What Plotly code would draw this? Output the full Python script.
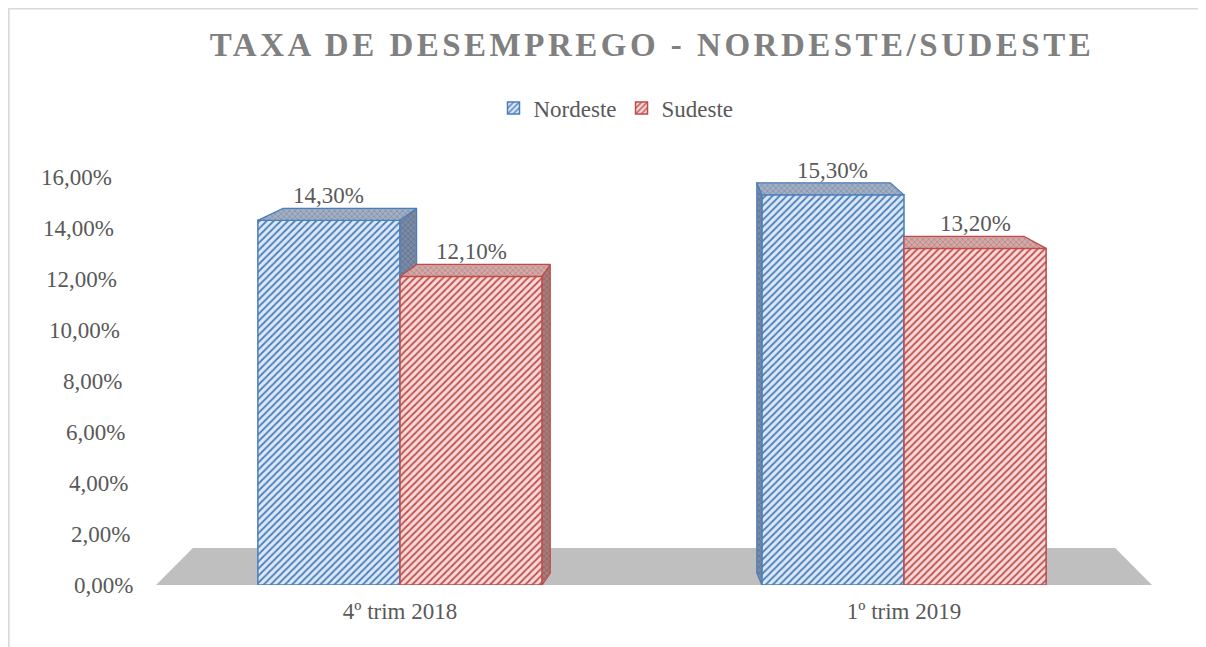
import plotly.graph_objects as go

# ---- data ----
categories = ["4º trim 2018", "1º trim 2019"]
series_names = ["Nordeste", "Sudeste"]
nordeste = [14.3, 15.3]
sudeste = [12.1, 13.2]
y_ticks = [0, 2, 4, 6, 8, 10, 12, 14, 16]
y_tick_text = [f"{v:.2f}".replace(".", ",") + "%" for v in y_ticks]

# ---- style ----
W, H = 1206, 647
ML, MR, MT, MB = 140, 58, 169, 70
PW, PH = W - ML - MR, H - MT - MB
XR = (-0.5, 1.5)
YR = (0, 16)
px_x = PW / (XR[1] - XR[0])
px_y = PH / (YR[1] - YR[0])
BARGAP = 0.436
BW = (1 - BARGAP) / 2
K, XV = 0.06, 0.55           # perspective for 3-D faces
DEPTH = 12 / px_y            # depth of bar tops (in y units)
TICK_SLANT = 1.356           # px per y unit (perspective of the value axis labels)

TXT = "#595959"
FONT = "Liberation Serif, Times New Roman, serif"
FS = 23
front = {
    "Nordeste": dict(bg="#dce8f7", fg="#4a7ebb", edge="#4a7ebb"),
    "Sudeste": dict(bg="#f7dad9", fg="#c0504d", edge="#be4b48"),
}
topface = {
    "Nordeste": dict(bg="#a3b0c4", fg="#3d5278"),
    "Sudeste": dict(bg="#d3aaa9", fg="#7d3e3c"),
}
sideface = {
    "Nordeste": dict(bg="#7b8ba6", fg="#2e3f5e"),
    "Sudeste": dict(bg="#a77c7b", fg="#5e2f2e"),
}

fig = go.Figure()
xs = list(range(len(categories)))
values = {"Nordeste": nordeste, "Sudeste": sudeste}

def xp(p): return (p - ML) / PW
def yp(p): return (H - MB - p) / PH

# front faces (real bars)
for name in series_names:
    c = front[name]
    fig.add_trace(go.Bar(
        name=name, x=xs, y=values[name],
        marker=dict(color=c["bg"], line=dict(color=c["edge"], width=1.5),
                    pattern=dict(shape="/", fgcolor=c["fg"], bgcolor=c["bg"],
                                 size=5, solidity=0.35, fillmode="replace")),
        hoverinfo="skip",
    ))

# 3-D top / side faces derived from the same values
def face(xpts, ypts, name, style):
    c = style[name]
    fig.add_trace(go.Scatter(
        x=xpts + [xpts[0]], y=ypts + [ypts[0]], mode="lines", fill="toself",
        fillcolor=c["bg"],
        fillpattern=dict(shape="x", fgcolor=c["fg"], bgcolor=c["bg"], size=4, solidity=0.25),
        line=dict(color=front[name]["edge"], width=1.2),
        showlegend=False, hoverinfo="skip",
    ))

labels = []
for g in xs:
    hs = [values[n][g] for n in series_names]
    for j, name in enumerate(series_names):
        v = hs[j]
        xl = g - BW + j * BW
        xr = xl + BW
        dxl, dxr = K * (XV - xl), K * (XV - xr)
        xc = (xl + xr) / 2
        # side face
        if xc < XV:
            nb = hs[j + 1] if j + 1 < len(hs) else 0
            if nb < v:
                face([xr, xr, xr + dxr, xr + dxr], [nb, v, v + DEPTH, nb + DEPTH], name, sideface)
        else:
            nb = hs[j - 1] if j - 1 >= 0 else 0
            if nb < v:
                face([xl, xl, xl + dxl, xl + dxl], [nb, v, v + DEPTH, nb + DEPTH], name, sideface)
        # top face
        left_back = xl + dxl
        if j - 1 >= 0 and hs[j - 1] > v and left_back < xl:
            left_back = xl
        right_back = xr + dxr
        if j + 1 < len(hs) and hs[j + 1] > v and right_back > xr:
            right_back = xr
        face([xl, xr, right_back, left_back], [v, v, v + DEPTH, v + DEPTH], name, topface)
        labels.append((xc, v + DEPTH, v))

for xc, yb, v in labels:
    fig.add_annotation(x=xc, y=yb, text=f"{v:.2f}".replace(".", ",") + "%",
                       showarrow=False, yanchor="bottom", yshift=-2,
                       font=dict(family=FONT, size=FS, color=TXT))

# value-axis labels (slanted by the 3-D perspective)
for tv, tt in zip(y_ticks, y_tick_text):
    fig.add_annotation(x=xp(127.2 - TICK_SLANT * tv), xref="paper", y=tv, yref="y",
                       text=tt, showarrow=False, xanchor="right", yanchor="middle",
                       font=dict(family=FONT, size=FS, color=TXT))

# floor
fl_top = 37 / px_y
fig.add_shape(type="path", layer="below", line=dict(width=0), fillcolor="#bfbfbf",
              path=f"M {-0.484},0 L {1.492},0 L {1.419},{fl_top} L {-0.411},{fl_top} Z")

# chart border (outer frame)
fig.add_shape(type="rect", xref="paper", yref="paper", layer="below",
              x0=xp(0.8), x1=xp(W + 20), y0=yp(H + 20), y1=yp(0.8),
              line=dict(color="#d9d9d9", width=1.6), fillcolor="rgba(0,0,0,0)")

fig.update_layout(
    width=W, height=H, autosize=False,
    margin=dict(l=ML, r=MR, t=MT, b=MB),
    paper_bgcolor="white", plot_bgcolor="rgba(0,0,0,0)",
    separators=",.",
    barmode="group", bargap=BARGAP, bargroupgap=0,
    font=dict(family=FONT, size=FS, color=TXT),
    title=dict(text="<b>TAXA DE DESEMPREGO - NORDESTE/SUDESTE</b>",
               x=0.5, xref="paper", xanchor="center",
               y=1 - 36 / H, yanchor="middle",
               font=dict(family=FONT, size=33, color="#808080")),
    legend=dict(orientation="h", x=xp(608), xanchor="center",
                y=yp(100), yanchor="middle", font=dict(size=FS, color=TXT),
                itemwidth=30, bgcolor="rgba(0,0,0,0)"),
    xaxis=dict(range=list(XR), tickvals=xs, ticktext=categories, showgrid=False,
               zeroline=False, showline=False, ticks="", automargin=False,
               ticklabelstandoff=10, fixedrange=True),
    yaxis=dict(range=list(YR), tickvals=y_ticks, showticklabels=False,
               showgrid=False, zeroline=False, showline=False, ticks="",
               automargin=False, fixedrange=True),
)

fig.write_html("out.html",
               post_script="document.querySelectorAll('.gtitle').forEach(function(t){t.style.letterSpacing='3.5px';});")
